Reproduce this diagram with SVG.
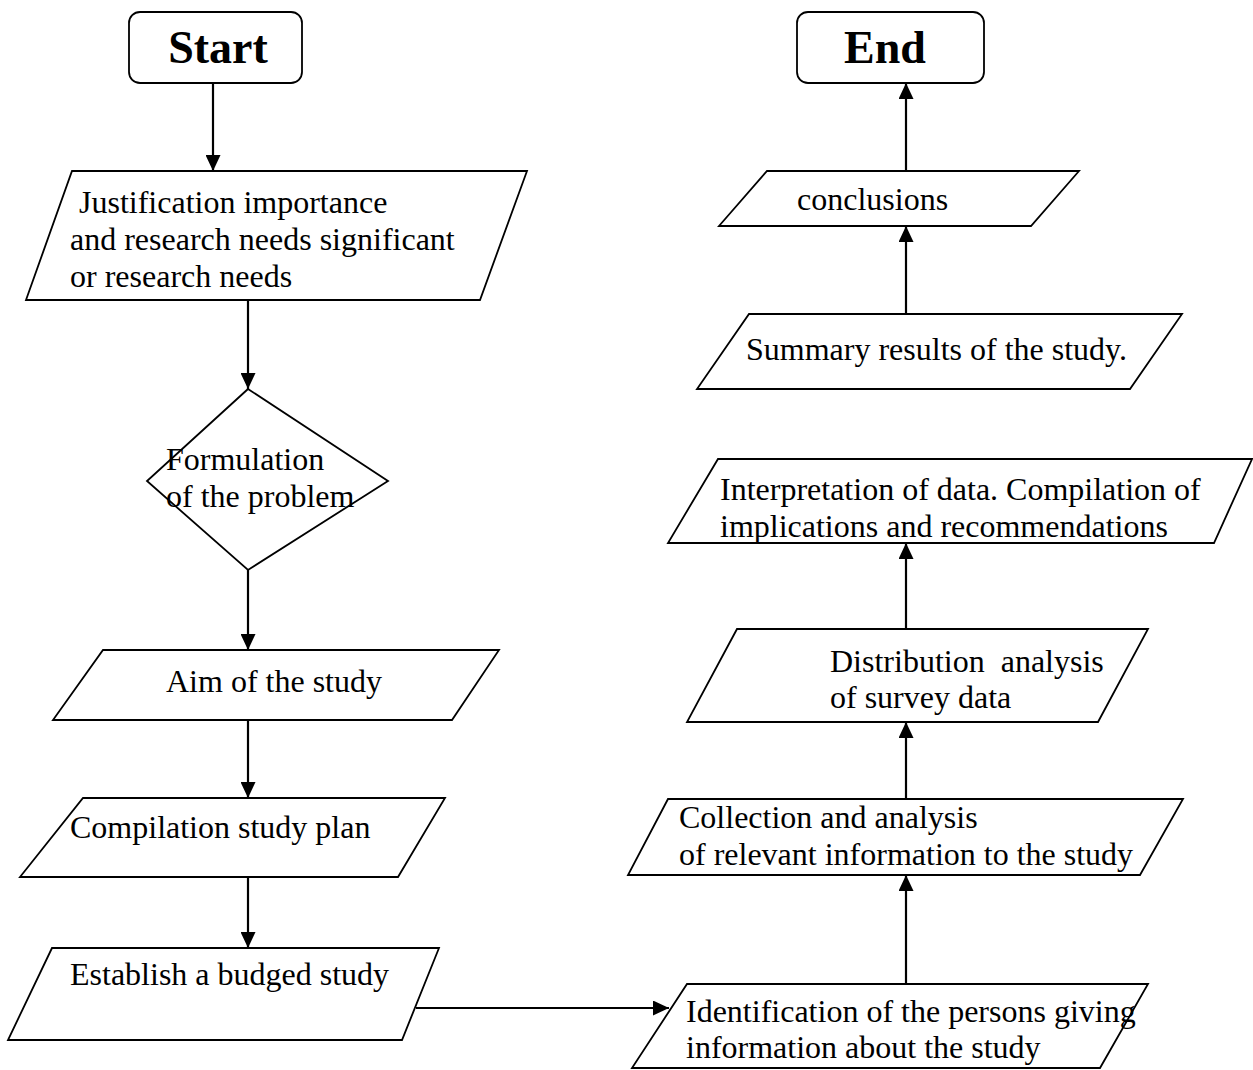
<svg xmlns="http://www.w3.org/2000/svg" width="1253" height="1070" viewBox="0 0 1253 1070">
<defs>
<marker id="arr" markerUnits="userSpaceOnUse" markerWidth="17" markerHeight="15" refX="16" refY="7.5" orient="auto">
<path d="M0,0 L16,7.5 L0,15 z" fill="#000"/>
</marker>
<style>
.shape{fill:#fff;stroke:#000;stroke-width:1.8;stroke-linejoin:miter}
.term{fill:#fff;stroke:#000;stroke-width:1.8}
.t{font-family:"Liberation Serif","Times New Roman",serif;font-size:32px;fill:#000}
.tb{font-family:"Liberation Serif","Times New Roman",serif;font-size:46px;font-weight:bold;fill:#000}
.conn line{stroke:#000;stroke-width:2.2;marker-end:url(#arr)}
</style>
</defs>
<rect width="1253" height="1070" fill="#fff"/>

<g id="start">
<rect class="term" x="129" y="12" width="173" height="71" rx="11"/>
<text class="tb" x="218" y="63" text-anchor="middle">Start</text>
</g>
<g id="end">
<rect class="term" x="797" y="12" width="187" height="71" rx="11"/>
<text class="tb" x="885" y="63" text-anchor="middle">End</text>
</g>

<g id="justification">
<polygon class="shape" points="72,171 527,171 480,300 26,300"/>
<text class="t" x="79" y="213">Justification importance</text>
<text class="t" x="70" y="250">and research needs significant</text>
<text class="t" x="70" y="287">or research needs</text>
</g>

<g id="formulation">
<polygon class="shape" points="248,389 388,481 248,570 147,481"/>
<text class="t" x="166" y="470">Formulation</text>
<text class="t" x="166" y="507">of the problem</text>
</g>

<g id="aim">
<polygon class="shape" points="103,650 499,650 452,720 53,720"/>
<text class="t" x="166" y="692">Aim of the study</text>
</g>

<g id="plan">
<polygon class="shape" points="83,798 445,798 398,877 20,877"/>
<text class="t" x="70" y="838">Compilation study plan</text>
</g>

<g id="budget">
<polygon class="shape" points="52,948 439,948 402,1040 8,1040"/>
<text class="t" x="70" y="985">Establish a budged study</text>
</g>

<g id="identification">
<polygon class="shape" points="687,984 1148,984 1100,1068 632,1068"/>
<text class="t" x="686" y="1022">Identification of the persons giving</text>
<text class="t" x="686" y="1058">information about the study</text>
</g>

<g id="collection">
<polygon class="shape" points="668,799 1183,799 1140,875 628,875"/>
<text class="t" x="679" y="828">Collection and analysis</text>
<text class="t" x="679" y="865">of relevant information to the study</text>
</g>

<g id="distribution">
<polygon class="shape" points="737,629 1148,629 1098,722 687,722"/>
<text class="t" x="830" y="672" xml:space="preserve">Distribution  analysis</text>
<text class="t" x="830" y="708">of survey data</text>
</g>

<g id="interpretation">
<polygon class="shape" points="718,459 1252,459 1214,543 668,543"/>
<text class="t" x="720" y="500">Interpretation of data. Compilation of</text>
<text class="t" x="720" y="537">implications and recommendations</text>
</g>

<g id="summary">
<polygon class="shape" points="749,314 1182,314 1130,389 697,389"/>
<text class="t" x="746" y="360">Summary results of the study.</text>
</g>

<g id="conclusions">
<polygon class="shape" points="767,171 1079,171 1031,226 719,226"/>
<text class="t" x="797" y="210">conclusions</text>
</g>

<g id="connectors" class="conn">
<line x1="213" y1="83" x2="213" y2="171"/>
<line x1="248" y1="300" x2="248" y2="389"/>
<line x1="248" y1="570" x2="248" y2="650"/>
<line x1="248" y1="720" x2="248" y2="798"/>
<line x1="248" y1="877" x2="248" y2="948"/>
<line x1="416" y1="1008" x2="669" y2="1008"/>
<line x1="906" y1="984" x2="906" y2="875"/>
<line x1="906" y1="799" x2="906" y2="722"/>
<line x1="906" y1="629" x2="906" y2="543"/>
<line x1="906" y1="314" x2="906" y2="226"/>
<line x1="906" y1="171" x2="906" y2="83"/>
</g>
</svg>
